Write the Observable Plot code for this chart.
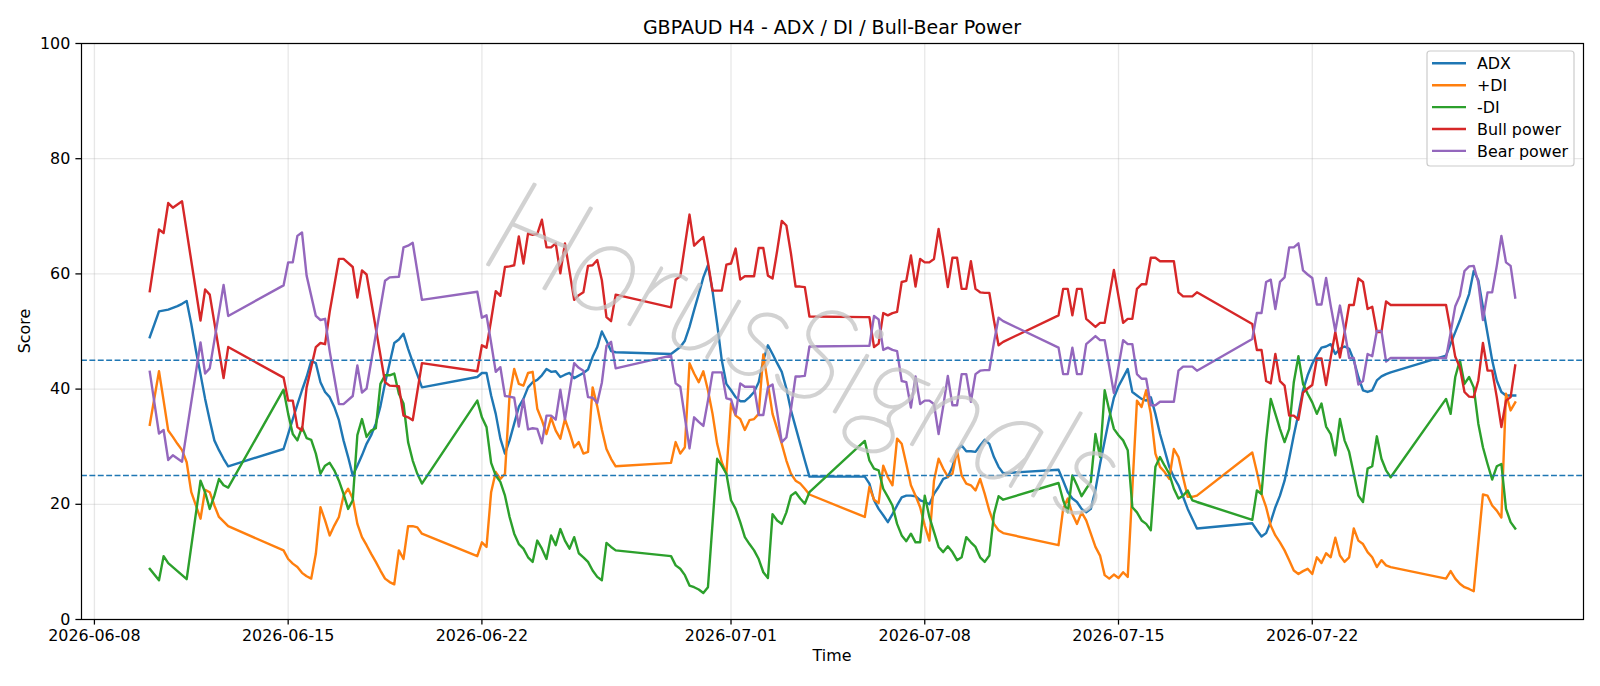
<!DOCTYPE html>
<html>
<head>
<meta charset="utf-8">
<script src="https://cdn.jsdelivr.net/npm/d3@7"></script>
<script src="https://cdn.jsdelivr.net/npm/@observablehq/plot@0.6"></script>
<style>
  html, body { margin: 0; padding: 0; background: #ffffff; }
  #chart svg { display: block; }
</style>
</head>
<body>
<div id="chart"></div>
<script>
// ---------------- DATA ----------------
const titleText = "GBPAUD H4 - ADX / DI / Bull-Bear Power";
const xLabel = "Time";
const yLabel = "Score";
const firstBar = "2026-06-10T00:00:00Z"; // H4 bars, [bar index, value]
const barHours = 4;
const seriesNames = ["ADX", "+DI", "-DI", "Bull power", "Bear power"];
const seriesColors = ["#1f77b4", "#ff7f0e", "#2ca02c", "#d62728", "#9467bd"];
const thresholds = [45, 25];
const xTickLabels = ["2026-06-08", "2026-06-15", "2026-06-22", "2026-07-01", "2026-07-08", "2026-07-15", "2026-07-22"];
const yTicks = [0, 20, 40, 60, 80, 100];
const watermark = "HorusSignals";

const adx = [[0,49.0],[2,53.5],[4,53.8],[6,54.4],[7,54.8],[8,55.3],[9,51.3],[10,46.7],[11,42.6],[12,38.3],[13,34.6],[14,31.1],[15,29.4],[16,27.9],[17,26.6],
[29,29.6],[30,32.2],[31,34.8],[32,37.3],[33,39.8],[34,42.1],[35,44.9],[36,44.5],[37,41.2],[38,39.5],[39,38.6],[40,36.9],[41,34.6],[42,31.1],[43,28.2],[44,25.0],[45,26.7],[46,28.5],[47,30.5],[48,32.0],[49,34.0],[50,37.0],[51,41.0],[52,44.5],[53,48.0],[54,48.6],[55,49.6],[56,47.0],[57,44.7],[58,42.5],[59,40.3],
[71,42.1],[72,42.8],[73,42.8],[74,38.9],[75,35.7],[76,31.4],[77,28.8],[78,31.1],[79,34.0],[80,36.9],[81,38.3],[82,40.3],[83,41.2],[84,41.6],[85,42.4],[86,43.5],[87,43.0],[88,43.1],[89,42.1],[90,42.5],[91,42.8],[92,41.9],[94,42.8],[95,43.4],[96,45.6],[97,47.3],[98,50.0],[99,48.4],[100,46.6],[101,46.4],
[113,46.1],[114,46.7],[115,47.3],[116,48.4],[117,50.8],[118,53.7],[119,56.5],[120,59.4],[121,61.5],[122,57.0],[123,51.3],[124,45.0],[125,40.9],[126,39.8],[127,38.6],[128,37.9],[129,37.9],[130,38.6],[131,39.5],[132,41.2],[133,45.0],[134,47.6],[135,46.1],[136,44.5],[137,43.0],[138,40.1],[139,36.3],[140,33.4],[141,30.5],[142,27.6],[143,24.8],
[155,24.8],[156,23.6],[157,20.7],[158,19.2],[159,18.1],[160,16.9],[161,18.3],[162,19.8],[163,21.2],[164,21.5],[165,21.5],[166,21.4],[167,20.7],[168,20.4],[169,20.0],[170,21.8],[171,23.0],[172,24.4],[173,24.7],[174,26.5],[175,29.4],[176,30.2],[177,29.2],[178,29.2],[179,29.1],[180,30.2],[181,31.2],[182,30.5],[183,28.2],[184,26.5],[185,25.4],
[197,26.0],[198,24.1],[199,22.1],[200,21.0],[201,20.4],[202,19.2],[203,18.6],[204,19.2],[205,22.5],[206,27.0],[207,31.0],[208,35.0],[209,38.5],[210,40.5],[211,42.0],[212,43.5],[213,39.5],[214,38.9],[215,38.3],[216,38.0],[217,38.6],[218,35.7],[219,32.2],[220,29.4],[221,26.5],[222,24.7],[223,23.3],[224,21.3],[225,19.2],[226,17.5],[227,15.8],
[239,16.7],[240,15.5],[241,14.4],[242,15.0],[243,17.0],[244,19.5],[245,21.5],[246,24.1],[247,27.9],[248,32.0],[249,35.7],[250,39.8],[251,42.4],[252,44.4],[253,45.9],[254,47.2],[255,47.4],[256,47.8],[257,46.1],[258,47.0],[259,47.4],[260,47.0],[261,45.0],[262,42.1],[263,39.8],[264,39.5],[265,39.8],[266,41.5],[267,42.2],[268,42.6],[269,42.9],
[281,45.8],[282,47.9],[283,49.9],[284,51.9],[285,54.2],[286,56.5],[287,60.5],[288,58.9],[289,54.2],[290,49.6],[291,45.0],[292,41.5],[293,39.5],[294,38.9],[295,38.9],[296,38.9]];

const plusDI = [[0,33.8],[2,43.1],[3,38.0],[4,32.8],[5,31.7],[6,30.5],[7,29.4],[8,27.3],[9,22.1],[10,19.8],[11,17.5],[12,22.5],[13,22.1],[14,19.8],[15,17.8],[17,16.2],
[29,12.0],[30,10.5],[31,9.7],[32,9.1],[33,8.1],[34,7.5],[35,7.1],[36,11.4],[37,19.5],[38,17.2],[39,14.6],[40,16.3],[41,17.8],[42,21.5],[43,22.7],[44,21.0],[45,16.6],[46,14.3],[47,12.9],[48,11.4],[49,10.0],[50,8.5],[51,7.1],[52,6.5],[53,6.1],[54,12.0],[55,10.5],[56,16.2],[57,16.2],[58,16.0],[59,14.9],
[71,11.0],[72,13.4],[73,12.6],[74,22.1],[75,25.6],[76,24.4],[77,25.3],[78,38.9],[79,43.5],[80,40.9],[81,40.6],[82,42.8],[83,43.0],[84,36.6],[85,34.6],[86,32.2],[87,35.0],[88,32.8],[89,31.4],[90,34.8],[91,32.5],[92,29.9],[93,30.8],[94,28.8],[95,29.1],[96,40.3],[97,37.0],[98,33.0],[99,29.6],[100,27.9],[101,26.6],
[113,27.2],[114,30.8],[115,28.8],[116,29.9],[117,44.5],[118,42.7],[119,41.2],[120,43.1],[121,39.8],[122,35.7],[123,30.5],[124,27.3],[125,25.3],[126,37.5],[127,35.4],[128,34.8],[129,32.9],[130,34.6],[131,34.8],[132,35.7],[133,46.0],[134,40.9],[135,35.7],[136,33.1],[137,30.5],[138,27.6],[139,25.3],[140,24.1],[141,23.6],[142,22.7],[143,21.7],
[155,17.8],[156,23.0],[157,20.8],[158,20.2],[159,26.7],[160,24.7],[161,23.3],[162,31.4],[163,30.5],[164,27.0],[165,23.3],[166,21.5],[167,19.5],[168,16.3],[169,13.7],[170,24.1],[171,27.9],[172,26.2],[173,24.8],[174,25.3],[175,29.4],[176,25.0],[177,23.6],[178,23.3],[179,22.4],[180,24.4],[181,21.8],[182,18.9],[183,16.6],[184,15.5],[185,15.0],
[197,12.9],[198,19.2],[199,21.0],[200,18.3],[201,16.6],[202,18.6],[203,17.2],[204,14.9],[205,12.6],[206,11.1],[207,7.7],[208,7.1],[209,7.8],[210,7.2],[211,8.2],[212,7.4],[214,38.0],[215,36.9],[216,39.8],[217,35.7],[218,28.8],[219,26.5],[220,25.6],[221,24.4],[222,29.6],[223,28.2],[224,24.7],[225,21.3],[226,21.3],[227,21.5],
[239,29.0],[240,25.6],[241,21.8],[242,19.5],[243,16.3],[244,14.6],[245,13.4],[246,12.0],[247,10.3],[248,8.5],[249,7.9],[250,8.4],[251,8.8],[252,7.9],[253,10.8],[254,9.8],[255,11.5],[256,10.8],[257,14.2],[258,11.1],[259,10.0],[260,10.8],[261,15.8],[262,13.7],[263,13.1],[264,11.7],[265,10.8],[266,9.1],[267,10.3],[268,9.4],[269,9.1],
[281,7.1],[282,8.4],[283,7.1],[284,6.2],[285,5.6],[286,5.3],[287,4.9],[289,21.7],[290,21.5],[291,19.8],[292,18.9],[293,17.7],[294,39.2],[295,36.3],[296,37.7]];

const minusDI = [[0,8.8],[2,6.8],[3,11.0],[4,9.8],[5,9.1],[6,8.4],[7,7.7],[8,7.0],[11,24.1],[12,22.1],[13,19.2],[14,21.5],[15,24.4],[16,23.3],[17,22.9],
[29,39.9],[30,35.7],[31,32.2],[32,31.1],[33,33.4],[34,31.5],[35,31.2],[36,28.8],[37,25.3],[38,26.7],[39,27.2],[40,25.9],[41,24.1],[42,21.8],[43,19.2],[44,20.7],[45,32.0],[46,34.8],[47,31.7],[48,32.8],[49,33.2],[50,40.9],[51,42.4],[52,42.4],[53,42.7],[54,39.2],[55,37.5],[56,30.8],[57,27.6],[58,25.3],[59,23.6],
[71,38.0],[72,35.1],[73,33.4],[74,27.2],[75,25.0],[76,23.9],[77,21.5],[78,17.8],[79,14.9],[80,13.1],[81,12.3],[82,10.8],[83,10.0],[84,13.7],[85,12.3],[86,10.5],[87,14.6],[88,12.9],[89,15.7],[90,13.7],[91,12.3],[92,14.3],[93,11.5],[94,10.8],[95,10.0],[96,8.5],[97,7.4],[98,6.8],[99,13.3],[100,12.6],[101,12.0],
[113,11.0],[114,9.4],[115,8.8],[116,7.7],[117,5.9],[118,5.6],[119,5.2],[120,4.6],[121,5.6],[123,27.9],[124,26.7],[125,25.3],[126,20.7],[127,19.2],[128,16.9],[129,14.3],[130,13.1],[131,12.0],[132,10.5],[133,8.2],[134,7.2],[135,18.3],[136,17.2],[137,16.6],[138,18.6],[139,21.5],[140,22.1],[141,21.0],[142,20.1],[143,22.1],
[155,31.0],[156,27.6],[157,26.2],[158,25.9],[159,22.7],[160,21.3],[161,19.8],[162,16.6],[163,14.6],[164,13.6],[165,14.9],[166,13.4],[167,13.4],[168,21.5],[169,17.8],[170,15.2],[171,12.6],[172,11.7],[173,12.7],[174,11.7],[175,10.3],[176,10.8],[177,14.3],[178,13.4],[179,12.6],[180,10.8],[181,10.0],[182,11.1],[183,18.3],[184,21.4],[185,20.8],
[197,23.7],[198,20.7],[199,18.6],[200,25.0],[201,23.3],[202,21.4],[203,22.7],[204,23.9],[205,32.2],[206,28.2],[207,39.8],[208,36.3],[209,33.1],[210,32.0],[211,31.1],[212,29.4],[213,19.5],[214,18.6],[215,17.2],[216,16.6],[217,15.5],[218,26.5],[219,28.2],[220,26.7],[221,25.3],[222,22.7],[223,21.0],[224,21.5],[225,22.4],[226,20.7],[227,20.4],
[239,17.3],[240,22.4],[241,21.8],[242,31.0],[243,38.3],[244,35.7],[245,33.1],[246,30.8],[247,33.1],[248,41.2],[249,45.7],[250,40.9],[251,39.2],[252,37.7],[253,35.7],[254,37.5],[255,33.5],[256,32.2],[257,28.5],[258,34.8],[259,31.1],[260,29.1],[261,25.3],[262,21.5],[263,20.4],[264,26.2],[265,26.6],[266,31.8],[267,27.9],[268,25.9],[269,24.7],
[281,38.3],[282,35.7],[283,42.1],[284,45.0],[285,40.9],[286,42.1],[287,40.3],[288,34.0],[289,29.9],[290,27.0],[291,24.3],[292,26.6],[293,27.0],[294,19.2],[295,16.9],[296,15.8]];

const bullPower = [[0,57.0],[2,67.7],[3,67.1],[4,72.3],[5,71.5],[7,72.6],[11,51.9],[12,57.3],[13,56.4],[16,41.9],[17,47.3],
[29,42.0],[30,38.0],[31,38.0],[32,33.4],[33,32.8],[34,40.3],[36,47.3],[37,48.0],[38,47.8],[39,53.4],[41,62.6],[42,62.6],[44,61.2],[45,55.9],[46,60.6],[47,59.9],[51,41.2],[52,40.6],[54,40.5],[55,35.4],[56,35.1],[57,34.6],[59,44.5],
[71,43.1],[72,47.6],[73,47.2],[74,52.0],[75,57.0],[76,56.2],[77,61.2],[78,61.3],[79,61.5],[80,66.5],[81,61.8],[82,67.0],[83,66.8],[84,66.9],[85,69.4],[86,64.6],[87,64.6],[88,65.3],[89,60.1],[90,65.3],[92,55.5],[93,56.3],[94,56.8],[95,61.4],[96,61.5],[97,62.4],[98,58.9],[99,52.5],[100,51.8],[101,56.4],
[113,54.2],[114,59.0],[115,59.6],[117,70.3],[118,64.9],[119,65.7],[120,66.4],[121,62.0],[122,57.1],[124,57.1],[125,61.6],[126,61.8],[127,64.4],[128,59.0],[129,59.6],[131,59.6],[132,64.5],[133,64.5],[134,59.7],[135,59.2],[136,64.0],[137,69.2],[138,68.4],[139,63.5],[140,57.8],[141,57.8],[142,57.7],[143,52.6],
[155,52.5],[156,52.5],[157,47.3],[158,47.9],[159,53.2],[160,52.8],[161,53.2],[162,53.4],[163,58.6],[164,58.8],[165,63.2],[166,57.8],[167,62.6],[168,62.0],[169,62.0],[170,62.6],[171,67.8],[172,63.0],[173,57.7],[174,62.8],[175,62.8],[176,57.4],[177,57.4],[178,62.2],[179,57.4],[180,56.8],[181,56.7],[182,56.7],[183,51.9],[184,47.6],[185,48.2],
[197,52.8],[198,57.4],[199,57.4],[200,52.8],[201,57.4],[202,57.4],[203,52.2],[204,51.5],[205,50.8],[206,51.5],[207,51.5],[209,60.7],[211,51.5],[212,52.2],[213,52.2],[214,57.4],[215,58.2],[216,58.2],[217,62.8],[218,62.8],[219,62.2],[222,62.2],[223,56.8],[224,56.1],[226,56.1],[227,56.8],
[239,51.3],[240,46.8],[241,46.8],[242,41.4],[243,41.0],[244,46.1],[245,41.4],[246,40.6],[247,35.4],[248,35.4],[249,34.7],[250,39.4],[251,40.1],[252,40.7],[253,45.3],[254,45.3],[255,40.7],[256,45.5],[257,49.9],[258,45.5],[259,49.8],[260,54.6],[261,54.6],[262,59.2],[263,58.6],[264,53.9],[265,54.3],[266,49.9],[267,49.9],[268,55.2],[269,54.6],
[281,54.6],[282,50.2],[283,45.6],[284,43.8],[285,39.5],[286,38.7],[287,38.6],[288,41.5],[289,48.0],[290,43.2],[291,43.2],[292,38.6],[293,33.4],[294,38.0],[295,38.6],[296,44.1]];

const bearPower = [[0,43.0],[2,32.3],[3,32.9],[4,27.7],[5,28.5],[7,27.4],[11,48.1],[12,42.7],[13,43.6],[16,58.1],[17,52.7],
[29,58.0],[30,62.0],[31,62.0],[32,66.6],[33,67.2],[34,59.7],[36,52.7],[37,52.0],[38,52.2],[39,46.6],[41,37.4],[42,37.4],[44,38.8],[45,44.1],[46,39.4],[47,40.1],[51,58.8],[52,59.4],[54,59.5],[55,64.6],[56,64.9],[57,65.4],[59,55.5],
[71,56.9],[72,52.4],[73,52.8],[74,48.0],[75,43.0],[76,43.8],[77,38.8],[78,38.7],[79,38.5],[80,33.5],[81,38.2],[82,33.0],[83,33.2],[84,33.1],[85,30.6],[86,35.4],[87,35.4],[88,34.7],[89,39.9],[90,34.7],[92,44.5],[93,43.7],[94,43.2],[95,38.6],[96,38.5],[97,37.6],[98,41.1],[99,47.5],[100,48.2],[101,43.6],
[113,45.8],[114,41.0],[115,40.4],[117,29.7],[118,35.1],[119,34.3],[120,33.6],[121,38.0],[122,42.9],[124,42.9],[125,38.4],[126,38.2],[127,35.6],[128,41.0],[129,40.4],[131,40.4],[132,35.5],[133,35.5],[134,40.3],[135,40.8],[136,36.0],[137,30.8],[138,31.6],[139,36.5],[140,42.2],[141,42.2],[142,42.3],[143,47.4],
[155,47.5],[156,47.5],[157,52.7],[158,52.1],[159,46.8],[160,47.2],[161,46.8],[162,46.6],[163,41.4],[164,41.2],[165,36.8],[166,42.2],[167,37.4],[168,38.0],[169,38.0],[170,37.4],[171,32.2],[172,37.0],[173,42.3],[174,37.2],[175,37.2],[176,42.6],[177,42.6],[178,37.8],[179,42.6],[180,43.2],[181,43.3],[182,43.3],[183,48.1],[184,52.4],[185,51.8],
[197,47.2],[198,42.6],[199,42.6],[200,47.2],[201,42.6],[202,42.6],[203,47.8],[204,48.5],[205,49.2],[206,48.5],[207,48.5],[209,39.3],[211,48.5],[212,47.8],[213,47.8],[214,42.6],[215,41.8],[216,41.8],[217,37.2],[218,37.2],[219,37.8],[222,37.8],[223,43.2],[224,43.9],[226,43.9],[227,43.2],
[239,48.7],[240,53.2],[241,53.2],[242,58.6],[243,59.0],[244,53.9],[245,58.6],[246,59.4],[247,64.6],[248,64.6],[249,65.3],[250,60.6],[251,59.9],[252,59.3],[253,54.7],[254,54.7],[255,59.3],[256,54.5],[257,50.1],[258,54.5],[259,50.2],[260,45.4],[261,45.4],[262,40.8],[263,41.4],[264,46.1],[265,45.7],[266,50.1],[267,50.1],[268,44.8],[269,45.4],
[281,45.4],[282,49.8],[283,54.4],[284,56.2],[285,60.5],[286,61.3],[287,61.4],[288,58.5],[289,52.0],[290,56.8],[291,56.8],[292,61.4],[293,66.6],[294,62.0],[295,61.4],[296,55.9]];

// ---------------- BUILD ----------------
const t0 = Date.parse(firstBar);
const barDate = b => new Date(t0 + b * barHours * 3600 * 1000);
const allSeries = [adx, plusDI, minusDI, bullPower, bearPower];
const tables = allSeries.map((arr, i) => arr.map(([b, v]) => ({ date: barDate(b), value: v, series: seriesNames[i] })));
const allDates = tables.flat().map(d => +d.date);
const dMin = d3.min(allDates), dMax = d3.max(allDates);
const pad = (dMax - dMin) * 0.05;
const xDomain = [new Date(dMin - pad), new Date(dMax + pad)];
const xTicks = xTickLabels.map(s => new Date(s + "T00:00:00Z"));

const W = 1600, H = 686;
const mL = 81, mR = 17, mT = 43, mB = 67;
const font = "'DejaVu Sans', sans-serif";

const chart = Plot.plot({
  width: W, height: H,
  marginLeft: mL, marginRight: mR, marginTop: mT, marginBottom: mB,
  style: { fontFamily: font, fontSize: "15.9px", background: "#ffffff", color: "#000000", overflow: "visible" },
  x: { type: "utc", domain: xDomain },
  y: { domain: [0, 100] },
  color: { domain: seriesNames, range: seriesColors },
  marks: [
    Plot.gridX(xTicks, { stroke: "#b0b0b0", strokeOpacity: 0.3, strokeWidth: 1.27 }),
    Plot.gridY(yTicks, { stroke: "#b0b0b0", strokeOpacity: 0.3, strokeWidth: 1.27 }),
    ...tables.map(t => Plot.line(t, { x: "date", y: "value", stroke: "series", strokeWidth: 2.4, strokeLinejoin: "round", strokeLinecap: "square" })),
    Plot.ruleY(thresholds, { stroke: seriesColors[0], strokeWidth: 1.6, strokeDasharray: "5.9,2.5" }),
    Plot.axisX(xTicks, { tickFormat: d3.utcFormat("%Y-%m-%d"), tickSize: 5.6, tickPadding: 4.5, label: null, strokeWidth: 1.27 }),
    Plot.axisY(yTicks, { tickSize: 5.6, tickPadding: 5.6, label: null, strokeWidth: 1.27 }),
    Plot.frame({ stroke: "#000000", strokeWidth: 1.2 })
  ]
});

document.getElementById("chart").appendChild(chart);

const svg = d3.select(chart);
const cx = (mL + (W - mR)) / 2;

// watermark (light, thin strokes, rotated)
svg.append("text")
  .attr("x", 800).attr("y", 362)
  .attr("transform", "rotate(23 800 362)")
  .attr("text-anchor", "middle")
  .attr("dominant-baseline", "middle")
  .attr("font-family", "Lato, 'Open Sans', sans-serif")
  .attr("font-size", 132)
  .attr("font-style", "italic")
  .attr("font-weight", 200)
  .attr("fill", "#c4c4c4")
  .attr("stroke", "#c4c4c4")
  .attr("stroke-width", 2.6)
  .attr("stroke-linejoin", "round")
  .attr("opacity", 0.75)
  .text(watermark);

// title and axis labels
svg.append("text").attr("x", cx).attr("y", 33.5).attr("text-anchor", "middle")
  .attr("font-family", font).attr("font-size", "19px").attr("fill", "#000").text(titleText);
svg.append("text").attr("x", cx).attr("y", 661).attr("text-anchor", "middle")
  .attr("font-family", font).attr("font-size", "15.9px").attr("fill", "#000").text(xLabel);
svg.append("text").attr("transform", `translate(30,${(mT + H - mB) / 2}) rotate(-90)`).attr("text-anchor", "middle")
  .attr("font-family", font).attr("font-size", "15.9px").attr("fill", "#000").text(yLabel);

// legend
const lg = svg.append("g");
lg.append("rect").attr("x", 1427).attr("y", 51).attr("width", 147).attr("height", 115).attr("rx", 3)
  .attr("fill", "#ffffff").attr("fill-opacity", 0.8).attr("stroke", "#cccccc").attr("stroke-width", 1.2);
seriesNames.forEach((name, i) => {
  const y = 63.3 + i * 21.9;
  lg.append("line").attr("x1", 1432).attr("x2", 1466).attr("y1", y).attr("y2", y)
    .attr("stroke", seriesColors[i]).attr("stroke-width", 2.4);
  lg.append("text").attr("x", 1477).attr("y", y + 5.8).attr("text-anchor", "start")
    .attr("font-family", font).attr("font-size", "15.9px")
    .attr("fill", "#000").text(name);
});
</script>
</body>
</html>
